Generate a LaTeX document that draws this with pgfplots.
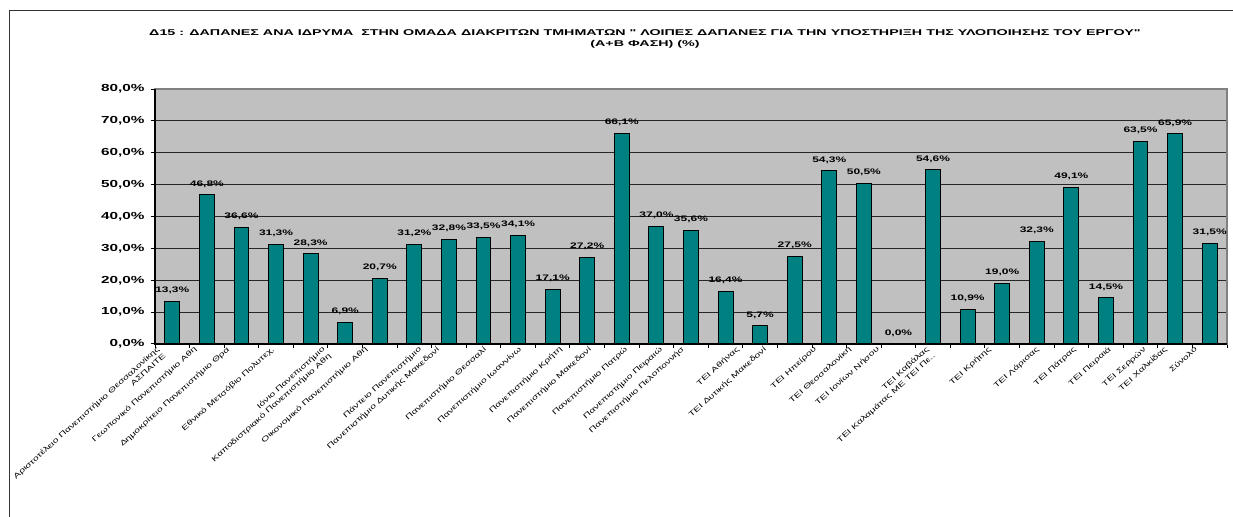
\documentclass[border=0pt]{standalone}
\usepackage{fontspec}
\setmainfont{Liberation Sans}
\newfontfamily\widefont[FakeStretch=1.5]{Liberation Sans}
\newfontfamily\titlefont[FakeStretch=1.7]{Liberation Sans}
\newfontfamily\catfont[FakeStretch=1.45]{Liberation Sans}
\usepackage{pgfplots}
\pgfplotsset{compat=1.18}
\definecolor{barteal}{RGB}{0,128,128}
\definecolor{plotgray}{RGB}{192,192,192}
\definecolor{bordergray}{RGB}{128,128,128}

\begin{document}
\begin{tikzpicture}
\path[use as bounding box] (0,0) rectangle (616.5pt,-258.5pt);
% outer chart frame (runs off the page on the right and bottom)
\draw[black!80, line width=0.7pt] (4.8pt,-275pt) -- (4.8pt,-5.4pt) -- (640pt,-5.4pt);
\node[align=center, font=\titlefont\bfseries\fontsize{4.2}{5.5}\selectfont]
  at (322.5pt,-19.4pt)
  {Δ15 : ΔΑΠΑΝΕΣ ΑΝΑ ΙΔΡΥΜΑ~ ΣΤΗΝ ΟΜΑΔΑ ΔΙΑΚΡΙΤΩΝ ΤΜΗΜΑΤΩΝ " ΛΟΙΠΕΣ ΔΑΠΑΝΕΣ ΓΙΑ ΤΗΝ ΥΠΟΣΤΗΡΙΞΗ ΤΗΣ ΥΛΟΠΟΙΗΣΗΣ ΤΟΥ ΕΡΓΟΥ"\\(Α+Β ΦΑΣΗ) (\%)};
\begin{axis}[
    at={(77.5pt,-172pt)}, anchor=south west,
    scale only axis, width=536pt, height=127.5pt,
    ybar, bar width=0.43,
    xmin=-0.5, xmax=30.5, ymin=0, ymax=80,
    ytick={0,10,...,80},
    xtick={-0.5,0.5,...,30.5}, xticklabels={},
    xtick pos=bottom, ytick pos=left,
    tick align=outside, major tick length=2pt,
    tick style={black, line width=0.5pt},
    ymajorgrids, major grid style={black!85, line width=0.5pt},
    axis background/.style={fill=plotgray},
    axis line style={draw=bordergray, line width=0.6pt},
    /pgf/number format/assume math mode=true,
    yticklabel={\pgfmathprintnumber[fixed,fixed zerofill,precision=1,use comma]{\tick}\%},
    yticklabel style={font=\widefont\bfseries\fontsize{5.1}{6}\selectfont, inner sep=0pt, xshift=-3pt},
    extra x ticks={-0.5,0.57,1.52,2.82,4.28,5.51,7.07,7.59,8.95,9.96,11.14,11.98,13.03,14.04,14.67,16.26,17.04,18.49,19.50,20.31,21.75,23.54,24.93,26.00,27.01,28.02,28.63,29.50},
    extra x tick labels={{Αριστοτέλειο Πανεπιστήμιο Θεσσαλονίκης\\ΑΣΠΑΙΤΕ},Γεωπονικό Πανεπιστήμιο Αθη,Δημοκρίτειο Πανεπιστήμιο Θρα,Εθνικό Μετσόβιο Πολυτεχ.,{Ιόνιο Πανεπιστήμιο\\Καποδιστριακό Πανεπιστήμιο Αθη},Οικονομικό Πανεπιστήμιο Αθη,Πάντειο Πανεπιστήμιο,Πανεπιστήμιο Δυτικής Μακεδονί,Πανεπιστήμιο Θεσσαλί,Πανεπιστήμιο Ιωαννίνω,Πανεπιστήμιο Κρήτη,Πανεπιστήμιο Μακεδονί,Πανεπιστήμιο Πατρώ,Πανεπιστήμιο Πειραιώ,Πανεπιστήμιο Πελοποννήσ,ΤΕΙ Αθήνας,ΤΕΙ Δυτικής Μακεδονί,ΤΕΙ Ηπείρου,ΤΕΙ Θεσσαλονίκη,ΤΕΙ Ιονίων Νήσου,{ΤΕΙ Καβάλας\\ΤΕΙ Καλαμάτας ΜΕ ΤΕΙ Πε..},ΤΕΙ Κρήτης,ΤΕΙ Λάρισας,ΤΕΙ Πάτρας,ΤΕΙ Πειραιά,ΤΕΙ Σερρών,ΤΕΙ Χαλκίδας,Σύνολο},
    extra x tick style={major tick length=0pt, grid=none,
        xticklabel style={rotate=42, anchor=north east, inner sep=0pt, align=right, yshift=-1pt,
            font=\catfont\fontsize{3.6}{4.6}\selectfont}},
    nodes near coords={\pgfmathprintnumber[fixed,fixed zerofill,precision=1,use comma]{\pgfplotspointmeta}\%},
    every node near coord/.append style={font=\widefont\bfseries\fontsize{4}{5}\selectfont, inner sep=0pt, yshift=3.5pt},
    after end axis/.code={\draw[black, line width=0.6pt] (rel axis cs:0,1) -- (rel axis cs:0,0) -- (rel axis cs:1,0);},
]
\addplot[fill=barteal, draw=black, line width=0.5pt] coordinates {
  (0,13.3) (1,46.8) (2,36.6) (3,31.3) (4,28.3) (5,6.9) (6,20.7) (7,31.2)
  (8,32.8) (9,33.5) (10,34.1) (11,17.1) (12,27.2) (13,66.1) (14,37.0) (15,35.6)
  (16,16.4) (17,5.7) (18,27.5) (19,54.3) (20,50.5) (21,0.0) (22,54.6) (23,10.9)
  (24,19.0) (25,32.3) (26,49.1) (27,14.5) (28,63.5) (29,65.9) (30,31.5)
};
\end{axis}
\end{tikzpicture}
\end{document}
